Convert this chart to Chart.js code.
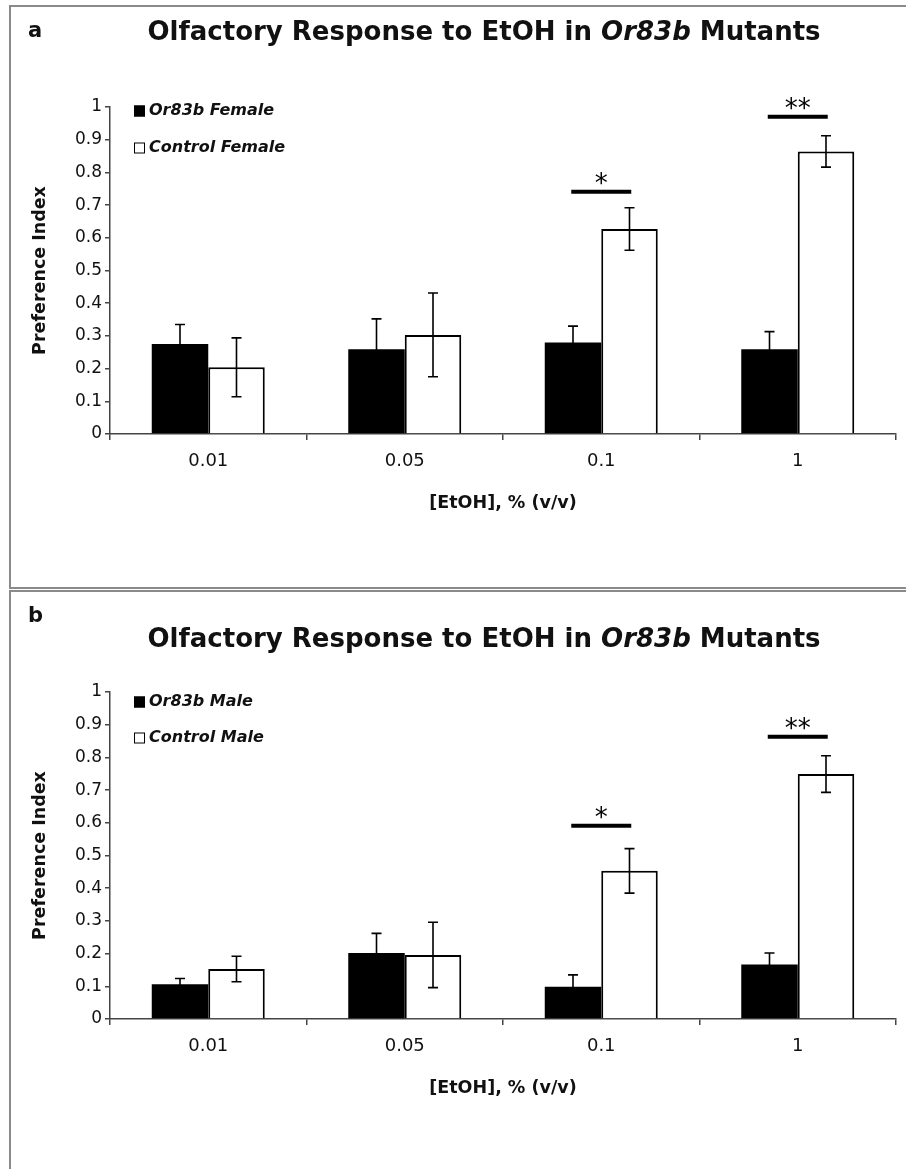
<!DOCTYPE html>
<html>
<head>
<meta charset="utf-8">
<script src="https://cdn.jsdelivr.net/npm/chart.js@4.4.1/dist/chart.umd.min.js"></script>
<style>
  html, body { margin: 0; padding: 0; background: #fff; width: 906px; height: 1169px; overflow: hidden; }
  .frame { position: absolute; left: 9px; width: 1000px; border: 2px solid #8a8a8a; box-sizing: border-box; }
  #frameA { top: 5px; height: 584px; }
  #frameB { top: 590px; height: 700px; }
  canvas { position: absolute; left: 0; }
  #chartA { top: 0; }
  #chartB { top: 585px; }
</style>
</head>
<body>
<div class="frame" id="frameA"></div>
<div class="frame" id="frameB"></div>
<canvas id="chartA" width="906" height="588"></canvas>
<canvas id="chartB" width="906" height="584"></canvas>
<script>
// data
const categories = ['0.01', '0.05', '0.1', '1'];
const yTickLabels = ['0', '0.1', '0.2', '0.3', '0.4', '0.5', '0.6', '0.7', '0.8', '0.9', '1'];

const femaleMutant = [0.275, 0.259, 0.280, 0.259];
const femaleMutantErr = [0.060, 0.093, 0.050, 0.054];
const femaleControl = [0.204, 0.303, 0.627, 0.864];
const femaleControlErr = [0.090, 0.128, 0.065, 0.048];
const femaleSigIndex = [2, 3];
const femaleSigLevel = [0.741, 0.970];

const maleMutant = [0.106, 0.202, 0.099, 0.167];
const maleMutantErr = [0.018, 0.060, 0.036, 0.035];
const maleControl = [0.153, 0.196, 0.453, 0.749];
const maleControlErr = [0.039, 0.100, 0.068, 0.056];
const maleSigIndex = [2, 3];
const maleSigLevel = [0.591, 0.863];

const sigMarks = ['*', '**'];

const FONT = '"DejaVu Sans", "Liberation Sans", Arial, sans-serif';
Chart.defaults.font.family = FONT;
Chart.defaults.color = '#111';

// error bars, significance bars, legend, title and panel letter
const decor = {
  id: 'decor',
  afterDatasetsDraw(chart, args, opts) {
    const ctx = chart.ctx;
    const x = chart.scales.x, y = chart.scales.y;

    ctx.save();
    ctx.strokeStyle = '#000';
    ctx.lineWidth = 1.6;
    chart.data.datasets.forEach((ds, i) => {
      chart.getDatasetMeta(i).data.forEach((bar, j) => {
        const v = ds.data[j], e = ds.errors[j];
        const top = y.getPixelForValue(v + e);
        const bot = y.getPixelForValue(v - e);
        ctx.beginPath();
        ctx.moveTo(bar.x, top); ctx.lineTo(bar.x, bot);
        ctx.moveTo(bar.x - 5, top); ctx.lineTo(bar.x + 5, top);
        ctx.moveTo(bar.x - 5, bot); ctx.lineTo(bar.x + 5, bot);
        ctx.stroke();
      });
    });

    ctx.lineWidth = 4;
    ctx.fillStyle = '#000';
    ctx.font = '26px ' + FONT;
    ctx.textAlign = 'center';
    ctx.textBaseline = 'alphabetic';
    opts.sigIndex.forEach((idx, k) => {
      const cx = x.getPixelForValue(idx);
      const ly = y.getPixelForValue(opts.sigLevel[k]);
      ctx.beginPath();
      ctx.moveTo(cx - 30, ly); ctx.lineTo(cx + 30, ly);
      ctx.stroke();
      const m = ctx.measureText(sigMarks[k]);
      const mid = (m.actualBoundingBoxAscent - m.actualBoundingBoxDescent) / 2;
      ctx.fillText(sigMarks[k], cx, ly - 13.5 + mid);
    });
    ctx.restore();
  },
  afterDraw(chart, args, opts) {
    const ctx = chart.ctx;
    ctx.save();
    ctx.fillStyle = '#111';

    // panel letter
    ctx.font = 'bold 21px ' + FONT;
    ctx.textAlign = 'left';
    ctx.textBaseline = 'alphabetic';
    ctx.fillText(opts.letter, 28, 37);

    // title with italic gene name
    const parts = [
      ['Olfactory Response to EtOH in ', 'bold 26px '],
      ['Or83b', 'italic bold 26px '],
      [' Mutants', 'bold 26px ']
    ];
    let total = 0;
    parts.forEach(p => { ctx.font = p[1] + FONT; total += ctx.measureText(p[0]).width; });
    let tx = opts.titleX - total / 2;
    parts.forEach(p => {
      ctx.font = p[1] + FONT;
      ctx.fillText(p[0], tx, opts.titleY);
      tx += ctx.measureText(p[0]).width;
    });

    // legend inside the plot
    ctx.textBaseline = 'middle';
    ctx.font = 'italic bold 16px ' + FONT;
    chart.data.datasets.forEach((ds, i) => {
      const ly = opts.legendY[i];
      ctx.fillStyle = ds.backgroundColor;
      ctx.fillRect(134, ly - 5.5, 11, 11);
      ctx.strokeStyle = '#000';
      ctx.lineWidth = 1;
      ctx.strokeRect(134.5, ly - 5, 10, 10);
      ctx.fillStyle = '#111';
      ctx.fillText(ds.label, 149, ly);
    });
    ctx.restore();
  }
};

function buildChart(id, o) {
  return new Chart(document.getElementById(id), {
    type: 'bar',
    data: {
      labels: categories,
      datasets: [
        { label: o.labels[0], data: o.mutant, errors: o.mutantErr,
          backgroundColor: '#000', borderColor: '#000', borderWidth: 0 },
        { label: o.labels[1], data: o.control, errors: o.controlErr,
          backgroundColor: '#fff', borderColor: '#000', borderWidth: 2 }
      ]
    },
    options: {
      responsive: false,
      animation: false,
      devicePixelRatio: 1,
      categoryPercentage: 0.575,
      barPercentage: 1,
      layout: { padding: { left: 10, right: 10, top: 107, bottom: o.bottomPad } },
      plugins: {
        legend: { display: false },
        title: { display: false },
        tooltip: { enabled: false },
        decor: {
          letter: o.letter, titleX: 484, titleY: o.titleY, legendY: o.legendY,
          sigIndex: o.sigIndex, sigLevel: o.sigLevel
        }
      },
      scales: {
        x: {
          grid: { display: true, drawOnChartArea: false, drawTicks: true, tickLength: 6, offset: true, color: '#444', lineWidth: 1.5 },
          border: { display: true, color: '#444', width: 1.5 },
          ticks: { font: { size: 18 }, color: '#111', padding: 11 },
          title: { display: true, text: '[EtOH], % (v/v)', color: '#111',
                   font: { size: 17.5, weight: 'bold' }, padding: { top: 4, bottom: 10 } },
          afterFit: s => { s.height = 90; }
        },
        y: {
          min: 0, max: 1,
          ticks: { stepSize: 0.1, font: { size: 17 }, color: '#111', padding: 3,
                   callback: (v, i) => yTickLabels[i] },
          grid: { drawOnChartArea: false, tickLength: 5, color: '#444', lineWidth: 1.5 },
          border: { display: true, color: '#444', width: 1.5 },
          title: { display: true, text: 'Preference Index', color: '#111',
                   font: { size: 17.5, weight: 'bold' }, padding: { top: 20, bottom: 0 } },
          afterFit: s => { s.width = 100; }
        }
      }
    },
    plugins: [decor]
  });
}

buildChart('chartA', {
  letter: 'a', titleY: 40, legendY: [111, 148], bottomPad: 64,
  labels: ['Or83b Female', 'Control Female'],
  mutant: femaleMutant, mutantErr: femaleMutantErr,
  control: femaleControl, controlErr: femaleControlErr,
  sigIndex: femaleSigIndex, sigLevel: femaleSigLevel
});

buildChart('chartB', {
  letter: 'b', titleY: 62, legendY: [117, 153], bottomPad: 60,
  labels: ['Or83b Male', 'Control Male'],
  mutant: maleMutant, mutantErr: maleMutantErr,
  control: maleControl, controlErr: maleControlErr,
  sigIndex: maleSigIndex, sigLevel: maleSigLevel
});
</script>
</body>
</html>
